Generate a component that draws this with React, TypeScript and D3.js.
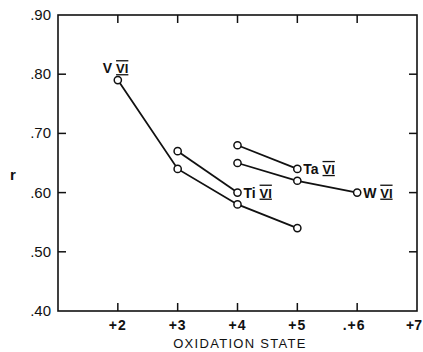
import { useEffect, useRef } from 'react';
import * as d3 from 'd3';

// oxidation state vs r
const vStates = [2, 3, 4, 5];
const vValues = [0.79, 0.64, 0.58, 0.54];
const tiStates = [3, 4];
const tiValues = [0.67, 0.60];
const taStates = [4, 5];
const taValues = [0.68, 0.64];
const wStates = [4, 5, 6];
const wValues = [0.65, 0.62, 0.60];

const xTicks = [2, 3, 4, 5, 6, 7];
const xTickLabels = ['+2', '+3', '+4', '+5', '.+6', '+7'];
const yTicks = [0.4, 0.5, 0.6, 0.7, 0.8, 0.9];
const yTickLabels = ['.40', '.50', '.60', '.70', '.80', '.90'];

const series = [
  { name: 'V', states: vStates, values: vValues, labelAt: 0, pos: 'above' },
  { name: 'Ti', states: tiStates, values: tiValues, labelAt: 1, pos: 'right' },
  { name: 'Ta', states: taStates, values: taValues, labelAt: 1, pos: 'right' },
  { name: 'W', states: wStates, values: wValues, labelAt: 2, pos: 'right' },
];

export default function App() {
  const svgRef = useRef<SVGSVGElement>(null);

  useEffect(() => {
    if (!svgRef.current) return;
    const svg = d3.select(svgRef.current);
    svg.selectAll('*').remove();

    const left = 58, right = 417, top = 15, bottom = 311;
    const font = '"Liberation Sans", Arial, sans-serif';

    const x = d3.scaleLinear().domain([1, 7]).range([left, right]);
    const y = d3.scaleLinear().domain([0.4, 0.9]).range([bottom, top]);

    // frame
    svg.append('rect')
      .attr('x', left).attr('y', top)
      .attr('width', right - left).attr('height', bottom - top)
      .attr('fill', 'none').attr('stroke', '#111').attr('stroke-width', 1.6);

    const tickLen = 8;
    // x ticks, bottom and top, pointing inward
    xTicks.filter(t => t < 7).forEach(t => {
      svg.append('line').attr('x1', x(t)).attr('x2', x(t))
        .attr('y1', bottom).attr('y2', bottom - tickLen)
        .attr('stroke', '#111').attr('stroke-width', 1.5);
      svg.append('line').attr('x1', x(t)).attr('x2', x(t))
        .attr('y1', top).attr('y2', top + tickLen)
        .attr('stroke', '#111').attr('stroke-width', 1.5);
    });
    // y ticks, left and right
    yTicks.filter(t => t > 0.4 && t < 0.9).forEach(t => {
      svg.append('line').attr('x1', left).attr('x2', left + tickLen)
        .attr('y1', y(t)).attr('y2', y(t))
        .attr('stroke', '#111').attr('stroke-width', 1.5);
      svg.append('line').attr('x1', right).attr('x2', right - tickLen)
        .attr('y1', y(t)).attr('y2', y(t))
        .attr('stroke', '#111').attr('stroke-width', 1.5);
    });

    // tick labels
    svg.append('g').selectAll('text')
      .data(xTicks)
      .enter().append('text')
      .attr('x', (d, i) => {
        if (d === 7) return 422;
        return x(d) - (xTickLabels[i].startsWith('.') ? 3 : 0);
      })
      .attr('y', 330)
      .attr('text-anchor', d => (d === 7 ? 'end' : 'middle'))
      .style('font-family', font).style('font-size', '14px').style('font-weight', 'bold')
      .style('letter-spacing', d => (d === 7 ? '0px' : '1px'))
      .style('fill', '#111')
      .text((d, i) => xTickLabels[i]);

    svg.append('g').selectAll('text')
      .data(yTicks)
      .enter().append('text')
      .attr('x', 51)
      .attr('y', d => y(d) + 5)
      .attr('text-anchor', 'end')
      .style('font-family', font).style('font-size', '15px')
      .style('fill', '#111')
      .text((d, i) => yTickLabels[i]);

    // axis titles
    svg.append('text')
      .attr('x', 240).attr('y', 348)
      .attr('text-anchor', 'middle')
      .style('font-family', font).style('font-size', '13px')
      .style('letter-spacing', '1.3px')
      .style('fill', '#111')
      .text('OXIDATION STATE');

    svg.append('text')
      .attr('x', 13).attr('y', 180)
      .attr('text-anchor', 'middle')
      .style('font-family', font).style('font-size', '15px').style('font-weight', 'bold')
      .style('fill', '#111')
      .text('r');

    const line = d3.line<[number, number]>()
      .x(d => x(d[0]))
      .y(d => y(d[1]));

    series.forEach(s => {
      const pts: [number, number][] = s.states.map((st, i) => [st, s.values[i]]);
      svg.append('path')
        .attr('d', line(pts))
        .attr('fill', 'none')
        .attr('stroke', '#111')
        .attr('stroke-width', 1.8);

      svg.append('g').selectAll('circle')
        .data(pts)
        .enter().append('circle')
        .attr('cx', d => x(d[0]))
        .attr('cy', d => y(d[1]))
        .attr('r', 3.6)
        .attr('fill', 'white')
        .attr('stroke', '#111')
        .attr('stroke-width', 1.5);

      const p = pts[s.labelAt];
      const lx = s.pos === 'above' ? x(p[0]) - 15 : x(p[0]) + 6;
      const ly = s.pos === 'above' ? y(p[1]) - 7 : y(p[1]) + 5;
      const label = svg.append('text')
        .attr('x', lx).attr('y', ly)
        .attr('text-anchor', 'start')
        .style('font-family', font).style('font-size', '14px').style('font-weight', 'bold')
        .style('fill', '#111');
      label.append('tspan').text(s.name + ' ');
      label.append('tspan')
        .style('text-decoration', 'underline overline')
        .style('font-size', '13px')
        .text('VI');
    });
  }, []);

  return (
    <svg
      ref={svgRef}
      width={423}
      height={352}
      style={{ position: 'absolute', left: 0, top: 0, background: 'white' }}
    />
  );
}
